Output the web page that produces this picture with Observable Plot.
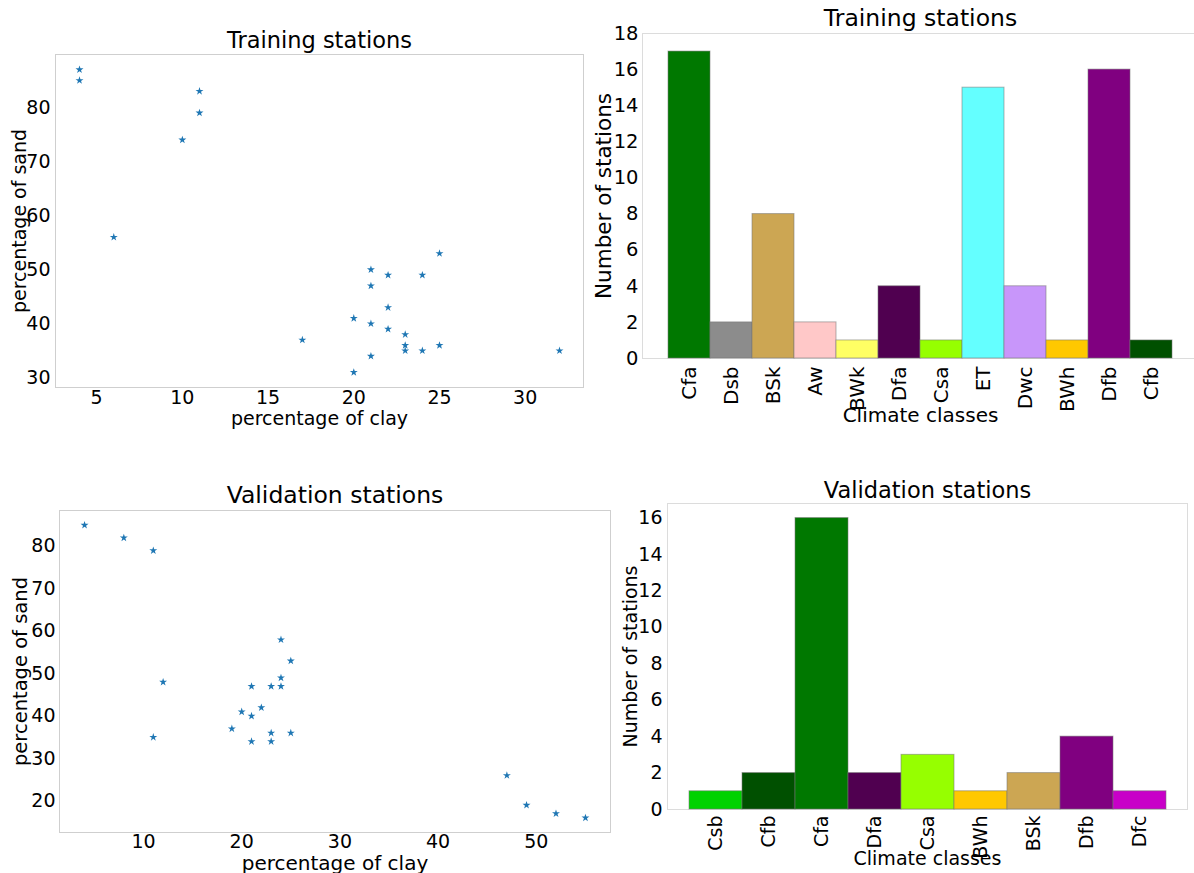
<!DOCTYPE html>
<html>
<head>
<meta charset="utf-8">
<script src="https://cdn.jsdelivr.net/npm/d3@7"></script>
<script src="https://cdn.jsdelivr.net/npm/@observablehq/plot@0.6"></script>
<style>
  html, body { margin: 0; padding: 0; background: white; }
  body { width: 1194px; height: 873px; position: relative; overflow: hidden; }
  .panel { position: absolute; overflow: visible; }
  .panel svg { max-width: none !important; }
</style>
</head>
<body>
<div class="panel" id="q1" style="left:0px; top:0px; width:590px; height:440px;"></div>
<div class="panel" id="q2" style="left:590px; top:0px; width:620px; height:440px;"></div>
<div class="panel" id="q3" style="left:0px; top:470px; width:615px; height:403px;"></div>
<div class="panel" id="q4" style="left:615px; top:470px; width:579px; height:403px;"></div>
<script>
// ---------- data ----------
const trainClay = [4, 4, 11, 11, 10, 6, 25, 21, 22, 24, 21, 22, 20, 21, 22, 23, 17, 23, 25, 23, 24, 32, 21, 20];
const trainSand = [87, 85, 83, 79, 74, 56, 53, 50, 49, 49, 47, 43, 41, 40, 39, 38, 37, 36, 36, 35, 35, 35, 34, 31];

const valClay = [4, 8, 11, 12, 11, 24, 25, 24, 21, 23, 24, 22, 20, 21, 19, 23, 25, 21, 23, 47, 49, 52, 55];
const valSand = [85, 82, 79, 48, 35, 58, 53, 49, 47, 47, 47, 42, 41, 40, 37, 36, 36, 34, 34, 26, 19, 17, 16];

const trainClasses = ["Cfa", "Dsb", "BSk", "Aw", "BWk", "Dfa", "Csa", "ET", "Dwc", "BWh", "Dfb", "Cfb"];
const trainCounts  = [17, 2, 8, 2, 1, 4, 1, 15, 4, 1, 16, 1];

const valClasses = ["Csb", "Cfb", "Cfa", "Dfa", "Csa", "BWh", "BSk", "Dfb", "Dfc"];
const valCounts  = [1, 2, 16, 2, 3, 1, 2, 4, 1];

const trainClayTicks = [5, 10, 15, 20, 25, 30];
const trainSandTicks = [30, 40, 50, 60, 70, 80];
const valClayTicks = [10, 20, 30, 40, 50];
const valSandTicks = [20, 30, 40, 50, 60, 70, 80];
const trainCountTicks = [0, 2, 4, 6, 8, 10, 12, 14, 16, 18];
const valCountTicks = [0, 2, 4, 6, 8, 10, 12, 14, 16];

const classColors = {
  Cfa: "#007800", Dsb: "#8c8c8c", BSk: "#cca653", Aw: "#ffc8c8", BWk: "#ffff64",
  Dfa: "#500050", Csa: "#96ff00", ET: "#64ffff", Dwc: "#c896fa", BWh: "#ffc800",
  Dfb: "#800080", Cfb: "#005000", Csb: "#00d200", Dfc: "#c800c8"
};

// ---------- helpers ----------
const FONT = "DejaVu Sans";
const baseStyle = {fontFamily: FONT, fontSize: "19px", background: "transparent", overflow: "visible", color: "#000", maxWidth: "none"};

function scatter(o) {
  const data = o.clay.map((c, i) => ({clay: c, sand: o.sand[i]}));
  return Plot.plot({
    width: o.width, height: o.height,
    marginLeft: o.m[0], marginRight: o.m[1], marginTop: o.m[2], marginBottom: o.m[3],
    style: baseStyle,
    x: {domain: o.xDomain},
    y: {domain: o.yDomain},
    marks: [
      Plot.frame({stroke: "#cfcfcf"}),
      Plot.axisX({ticks: o.xTicks, tickSize: 0, tickPadding: o.xPad, label: null, fontSize: o.tickFont}),
      Plot.axisY({ticks: o.yTicks, tickSize: 0, tickPadding: o.yPad, label: null, fontSize: o.tickFont}),
      Plot.dot(data, {x: "clay", y: "sand", symbol: "star", r: 2.5, fill: "#1f77b4", stroke: "none"}),
      Plot.text([o.title], {text: d => d, frameAnchor: "top", dy: o.titleDy, fontSize: o.titleFont, lineAnchor: "middle", fill: "#000"}),
      Plot.text(["percentage of clay"], {text: d => d, frameAnchor: "bottom", dy: o.xLabDy, fontSize: o.xLabFont, lineAnchor: "middle", fill: "#000"}),
      Plot.text(["percentage of sand"], {text: d => d, frameAnchor: "left", dx: o.yLabDx, rotate: -90, fontSize: o.yLabFont, lineAnchor: "middle", textAnchor: "middle", fill: "#000"})
    ]
  });
}

function bars(o) {
  const data = o.classes.map((c, i) => ({cls: c, n: o.counts[i]}));
  return Plot.plot({
    width: o.width, height: o.height,
    marginLeft: o.m[0], marginRight: o.m[1], marginTop: o.m[2], marginBottom: o.m[3],
    style: baseStyle,
    x: {domain: o.classes, paddingInner: 0, paddingOuter: o.outer},
    y: {domain: o.yDomain},
    color: {type: "identity"},
    marks: [
      Plot.frame({stroke: "#dcdcdc"}),
      Plot.barY(data, {x: "cls", y: "n", fill: d => classColors[d.cls], stroke: "#777", strokeOpacity: 0.55, strokeWidth: 1}),
      Plot.axisX({tickSize: 0, tickPadding: o.xPad, tickRotate: -90, label: null, fontSize: o.xTickFont}),
      Plot.axisY({ticks: o.yTicks, tickSize: 0, tickPadding: o.yPad, label: null, fontSize: o.yTickFont}),
      Plot.text([o.title], {text: d => d, frameAnchor: "top", dy: o.titleDy, fontSize: o.titleFont, lineAnchor: "middle", fill: "#000"}),
      Plot.text(["Climate classes"], {text: d => d, frameAnchor: "bottom", dy: o.xLabDy, fontSize: o.xLabFont, lineAnchor: "middle", fill: "#000"}),
      Plot.text(["Number of stations"], {text: d => d, frameAnchor: "left", dx: o.yLabDx, rotate: -90, fontSize: o.yLabFont, lineAnchor: "middle", textAnchor: "middle", fill: "#000"})
    ]
  });
}

// ---------- panels ----------
document.getElementById("q1").append(scatter({
  clay: trainClay, sand: trainSand, title: "Training stations",
  width: 590, height: 440, m: [55, 7, 54, 53],
  xDomain: [2.6, 33.4], yDomain: [28.2, 89.8], xTicks: trainClayTicks, yTicks: trainSandTicks,
  xPad: 3, yPad: 5, titleDy: -14, xLabDy: 31, yLabDx: -36,
  tickFont: 19, titleFont: 22.5, xLabFont: 19, yLabFont: 19
}));

document.getElementById("q2").append(bars({
  classes: trainClasses, counts: trainCounts, title: "Training stations",
  width: 620, height: 440, m: [52, 12, 33, 82],
  yDomain: [0, 18], yTicks: trainCountTicks, outer: 0.6,
  xPad: 8, yPad: 4, titleDy: -15, xLabDy: 57, yLabDx: -38,
  xTickFont: 20, yTickFont: 19.5, titleFont: 23.5, xLabFont: 20, yLabFont: 21.5
}));

document.getElementById("q3").append(scatter({
  clay: valClay, sand: valSand, title: "Validation stations",
  width: 615, height: 403, m: [59, 5, 40, 41],
  xDomain: [1.45, 57.55], yDomain: [12.55, 88.45], xTicks: valClayTicks, yTicks: valSandTicks,
  xPad: 2, yPad: 4, titleDy: -15, xLabDy: 31, yLabDx: -39,
  tickFont: 19, titleFont: 23.5, xLabFont: 20, yLabFont: 19.5
}));

document.getElementById("q4").append(bars({
  classes: valClasses, counts: valCounts, title: "Validation stations",
  width: 579, height: 403, m: [52, 7, 33, 64],
  yDomain: [0, 16.8], yTicks: valCountTicks, outer: 0.4,
  xPad: 6, yPad: 5, titleDy: -13, xLabDy: 49, yLabDx: -37,
  xTickFont: 19, yTickFont: 19, titleFont: 22.5, xLabFont: 19, yLabFont: 19
}));
</script>
</body>
</html>
